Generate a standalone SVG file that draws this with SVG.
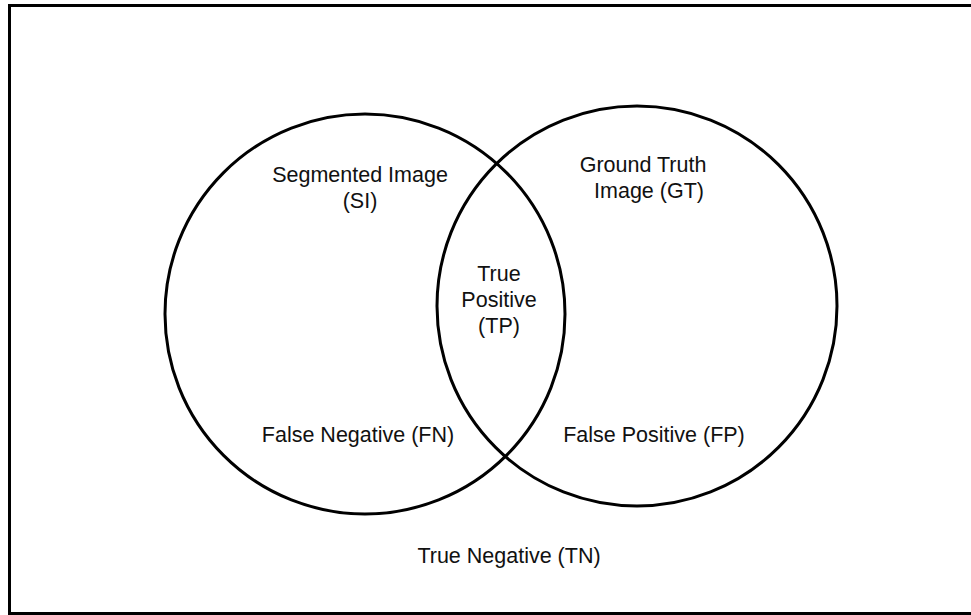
<svg xmlns="http://www.w3.org/2000/svg" width="971" height="615" viewBox="0 0 971 615">
  <style>
    .frame { fill: #ffffff; stroke: #000000; stroke-width: 3; }
    .set { fill: none; stroke: #000000; stroke-width: 3; }
    .label { font-family: "Liberation Sans", Arial, sans-serif; font-size: 21.5px; fill: #111111; text-anchor: middle; }
  </style>

  <!-- outer frame: the universe of pixels -->
  <rect id="frame" class="frame" x="9.5" y="5.5" width="964" height="608"/>

  <!-- the two sets -->
  <g id="connectors"></g>
  <g id="segmented">
    <circle class="set" cx="365" cy="314" r="200"/>
    <text class="label" x="360" y="182">Segmented Image</text>
    <text class="label" x="360" y="208">(SI)</text>
  </g>
  <g id="ground-truth">
    <circle class="set" cx="637" cy="306" r="200"/>
    <text class="label" x="643" y="172">Ground Truth</text>
    <text class="label" x="649" y="198">Image (GT)</text>
  </g>

  <!-- regions -->
  <g id="tp">
    <text class="label" x="499" y="281">True</text>
    <text class="label" x="499" y="307">Positive</text>
    <text class="label" x="499" y="333">(TP)</text>
  </g>
  <g id="fn">
    <text class="label" x="358" y="442">False Negative (FN)</text>
  </g>
  <g id="fp">
    <text class="label" x="654" y="442">False Positive (FP)</text>
  </g>
  <g id="tn">
    <text class="label" x="509" y="563">True Negative (TN)</text>
  </g>
</svg>
